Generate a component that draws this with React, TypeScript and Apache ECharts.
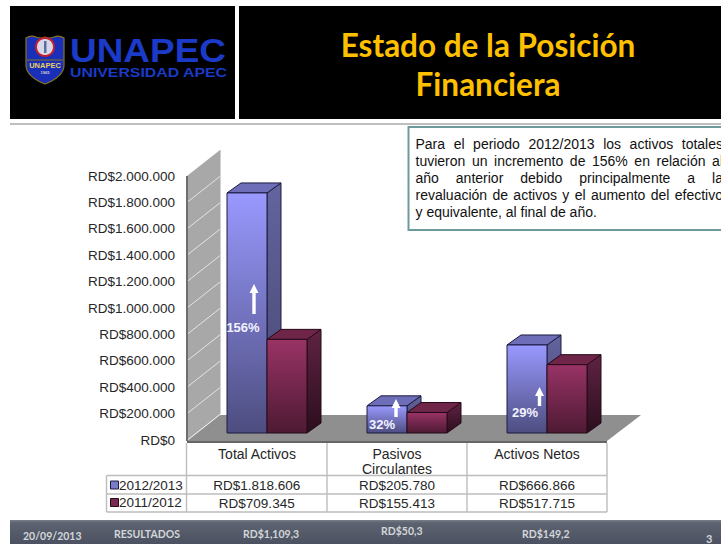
import React, { useEffect, useRef } from "react";
import * as echarts from "echarts";

const categories = ["Total Activos", "Pasivos\nCirculantes", "Activos Netos"];
const seriesNames = ["2012/2013", "2011/2012"];
const values2013 = [1818606, 205780, 666866];
const values2012 = [709345, 155413, 517715];
const yTicks = { min: 0, max: 2000000, interval: 200000 };
const increases = ["156%", "32%", "29%"];
const bodyLines = [
  "Para el periodo 2012/2013 los activos totales",
  "tuvieron un incremento de 156% en relación al",
  "año anterior debido principalmente a la",
  "revaluación de activos y el aumento del efectivo",
  "y equivalente, al final de año.",
];
const footerDate = "20/09/2013";
const footerLabel = "RESULTADOS";
const footerValues = ["RD$1,109,3", "RD$50,3", "RD$149,2"];
const pageNumber = "3";

const fmt = (v: number) => "RD$" + String(v).replace(/\B(?=(\d{3})+(?!\d))/g, ".");

echarts.graphic.registerShape(
  "unapecShield",
  echarts.graphic.extendPath(
    "M26 38 Q31 35 36 37 Q41 39 45 37 Q49 39 54 37 Q59 35 64 38 L64 66 Q63 77 45 84 Q27 77 26 66 Z",
    {}
  )
);

const FONT = '"Liberation Sans", Arial, sans-serif';
const SIZE = 13.5;
const ink = "#262626";
const rule = "#bdbdbd";

const palettes = [
  { front: ["#9999ff", "#4d4d80"], side: ["#64649f", "#45456f"], top: "#6d6db8", line: "#1c1c40" },
  { front: ["#993366", "#4d1a33"], side: ["#5f2342", "#2b0e1e"], top: "#6e2548", line: "#260a19" },
];

function bar3d(seriesIdx: number) {
  return (_params: any, api: any) => {
    const band = api.size([1, 0])[0];
    const w = (band * 2) / 7;
    const depthX = 14;
    const depthY = -10;
    const lift = -7;
    const p = api.coord([api.value(0), api.value(1)]);
    const base = api.coord([api.value(0), 0]);
    const x = p[0] - (band * 30) / 140 + seriesIdx * w;
    const y = p[1] + lift;
    const b = base[1] + lift;
    const pal = palettes[seriesIdx];
    const grad = (c: string[]) =>
      new echarts.graphic.LinearGradient(0, 0, 0, 1, [
        { offset: 0, color: c[0] },
        { offset: 1, color: c[1] },
      ]);
    const stroke = { stroke: pal.line, lineWidth: 1 };
    return {
      type: "group",
      children: [
        {
          type: "polygon",
          shape: { points: [[x + w, y], [x + w + depthX, y + depthY], [x + w + depthX, b + depthY], [x + w, b]] },
          style: { fill: grad(pal.side), ...stroke },
        },
        {
          type: "polygon",
          shape: { points: [[x, y], [x + depthX, y + depthY], [x + w + depthX, y + depthY], [x + w, y]] },
          style: { fill: pal.top, ...stroke },
        },
        {
          type: "rect",
          shape: { x, y, width: w, height: b - y },
          style: { fill: grad(pal.front), ...stroke },
        },
      ],
    };
  };
}

function textEl(text: string, x: number, y: number, font: string, fill: string, align = "left", z = 20) {
  return {
    type: "text",
    z,
    style: { text, x, y, font, fill, textAlign: align, textVerticalAlign: "middle" },
  };
}
function stretchedText(text: string, x: number, y: number, font: string, fill: string, scaleX: number, scaleY: number) {
  return {
    type: "text",
    z: 2,
    x,
    y,
    scaleX,
    scaleY,
    style: { text, x: 0, y: 0, font, fill, textAlign: "left", textVerticalAlign: "middle" },
  };
}
function lineEl(x1: number, y1: number, x2: number, y2: number, stroke: string, lineWidth: number, z = 1) {
  return { type: "line", z, shape: { x1, y1, x2, y2 }, style: { stroke, lineWidth } };
}
function arrow(cx: number, top: number, bottom: number) {
  const hw = 4.5;
  const head = 9;
  const s = 1.7;
  return {
    type: "polygon",
    z: 30,
    shape: {
      points: [
        [cx, top], [cx + hw, top + head], [cx + s, top + head], [cx + s, bottom],
        [cx - s, bottom], [cx - s, top + head], [cx - hw, top + head],
      ],
    },
    style: { fill: "#ffffff" },
  };
}

function justified(): any[] {
  const ctx = document.createElement("canvas").getContext("2d")!;
  const font = `14px ${FONT}`;
  ctx.font = font;
  const left = 415.5;
  const right = 723;
  const out: any[] = [];
  bodyLines.forEach((ln, i) => {
    const y = 144 + i * 17.1;
    const last = i === bodyLines.length - 1;
    if (last) {
      out.push(textEl(ln, left, y, font, "#111111"));
      return;
    }
    const words = ln.split(" ");
    const total = words.reduce((s, w) => s + ctx.measureText(w).width, 0);
    const gap = (right - left - total) / (words.length - 1);
    let x = left;
    words.forEach((w) => {
      out.push(textEl(w, x, y, font, "#111111"));
      x += ctx.measureText(w).width + gap;
    });
  });
  return out;
}

function buildGraphics(): any[] {
  const font = `${SIZE}px ${FONT}`;
  const els: any[] = [];
  // header
  els.push({ type: "rect", z: 0, shape: { x: 10, y: 6, width: 225, height: 113 }, style: { fill: "#000" } });
  els.push({ type: "rect", z: 0, shape: { x: 239, y: 6, width: 482, height: 113 }, style: { fill: "#000" } });
  els.push({ type: "rect", z: 0, shape: { x: 10, y: 123, width: 711, height: 2 }, style: { fill: "#bfbfbf" } });
  // logo
  els.push({ type: "unapecShield", z: 1, style: { fill: "#1a2fb8", stroke: "#8a7420", lineWidth: 1.2 } });
  els.push({ type: "circle", z: 2, shape: { cx: 45, cy: 47, r: 9 }, style: { fill: "#d8d8e8", stroke: "#c02030", lineWidth: 2 } });
  els.push({ type: "rect", z: 2, shape: { x: 44, y: 41, width: 2.5, height: 12 }, style: { fill: "#5a6fa0" } });
  els.push(lineEl(27, 60, 63, 60, "#8a7420", 1, 2));
  els.push(textEl("UNAPEC", 45, 65.5, 'bold 7.5px "Liberation Sans"', "#e8cf60", "center", 3));
  els.push(textEl("1965", 45, 72, 'bold 4px "Liberation Sans"', "#cfcfcf", "center", 3));
  els.push(stretchedText("UNAPEC", 70, 50, 'bold 33px "Liberation Sans"', "#1b3ac8", 1.12, 1));
  els.push(stretchedText("UNIVERSIDAD APEC", 70, 72.5, 'bold 13px "Liberation Sans"', "#1b3ac8", 1.22, 1.05));
  // title
  els.push(textEl("Estado de la Posición", 488, 44.5, 'bold 31.5px Lato', "#ffc000", "center", 2));
  els.push(textEl("Financiera", 488, 83.5, 'bold 31.5px Lato', "#ffc000", "center", 2));
  // text box
  els.push({ type: "rect", z: 1, shape: { x: 408.5, y: 127, width: 320, height: 103 }, style: { fill: "#fff", stroke: "#6f9a9c", lineWidth: 2 } });
  els.push(...justified());
  // wall and floor
  els.push({ type: "polygon", z: 1, shape: { points: [[187, 176], [220, 150], [220, 414], [187, 440]] }, style: { fill: "#a8a8a8" } });
  for (let v = yTicks.min + yTicks.interval; v <= yTicks.max - yTicks.interval; v += yTicks.interval) {
    const y = 440 - (v / yTicks.max) * 264;
    els.push(lineEl(187, y, 220, y - 26, "#e4e4e4", 1, 2));
  }
  els.push(lineEl(187, 176, 187, 441, "#6e6e6e", 2, 3));
  els.push(lineEl(220.5, 150, 220.5, 414, "#d0d0d0", 1, 2));
  els.push({ type: "polygon", z: 2, shape: { points: [[187, 441], [220, 415], [641, 415], [607, 441]] }, style: { fill: "#8f8f8f" } });
  els.push({ type: "rect", z: 2, shape: { x: 187, y: 441, width: 420, height: 2 }, style: { fill: "#666666" } });
  // table
  const rowY = [475.5, 494, 512];
  const colX = [186.5, 327, 467, 607];
  colX.forEach((x) => els.push(lineEl(x, 443, x, 512, rule, 1.4)));
  els.push(lineEl(106.5, rowY[0], 106.5, rowY[2], rule, 1.4));
  rowY.forEach((y) => els.push(lineEl(106.5, y, 607, y, rule, 1.4)));
  [values2013, values2012].forEach((arr, r) =>
    arr.forEach((v, c) =>
      els.push(textEl(fmt(v), (colX[c] + colX[c + 1]) / 2, (rowY[r] + rowY[r + 1]) / 2 + 0.5, font, ink, "center"))
    )
  );
  // arrows and percentages
  els.push(arrow(254, 284, 314), arrow(396, 399, 417), arrow(539.5, 387, 406));
  const pf = `bold 13px ${FONT}`;
  els.push(textEl(increases[0], 243, 327, pf, "#f2f2ff", "center", 30));
  els.push(textEl(increases[1], 382, 424, pf, "#f2f2ff", "center", 30));
  els.push(textEl(increases[2], 525, 412, pf, "#f2f2ff", "center", 30));
  // footer
  els.push({
    type: "rect",
    z: 0,
    shape: { x: 10, y: 520, width: 711, height: 24 },
    style: {
      fill: new echarts.graphic.LinearGradient(0, 0, 0, 1, [
        { offset: 0, color: "#7a7f88" },
        { offset: 0.12, color: "#5d6370" },
        { offset: 1, color: "#4b5160" },
      ]),
    },
  });
  const ff = 'bold 10.5px Lato';
  els.push(textEl(footerDate, 23, 536, 'bold 10.5px Lato', "#d3d6da"));
  els.push(textEl(footerLabel, 114, 534, ff, "#d3d6da"));
  els.push(textEl(footerValues[0], 243, 534, ff, "#d3d6da"));
  els.push(textEl(footerValues[1], 381, 531, ff, "#d3d6da"));
  els.push(textEl(footerValues[2], 522, 534, ff, "#d3d6da"));
  els.push(textEl(pageNumber, 706, 538, 'bold 11px Lato', "#d3d6da"));
  return els;
}

export default function App() {
  const ref = useRef<HTMLDivElement>(null);
  useEffect(() => {
    const chart = echarts.init(ref.current!, null, { renderer: "svg" });
    chart.setOption({
      animation: false,
      backgroundColor: "#ffffff",
      grid: { left: 187, right: 114, top: 176, bottom: 104, containLabel: false },
      xAxis: {
        type: "category",
        data: categories,
        axisLine: { show: false },
        axisTick: { show: false },
        axisLabel: { margin: 6, fontFamily: FONT, fontSize: 14, color: ink, lineHeight: 15, verticalAlign: "top", interval: 0 },
        z: 20,
      },
      yAxis: {
        type: "value",
        min: yTicks.min,
        max: yTicks.max,
        interval: yTicks.interval,
        axisLine: { show: false },
        axisTick: { show: false },
        splitLine: { show: false },
        axisLabel: { margin: 12, fontFamily: FONT, fontSize: SIZE, color: ink, formatter: (v: number) => fmt(v) },
      },
      legend: {
        orient: "vertical",
        left: 110,
        top: 478,
        padding: 0,
        itemWidth: 8,
        itemHeight: 8,
        itemGap: 3.5,
        selectedMode: false,
        data: [
          { name: seriesNames[0], icon: "rect", itemStyle: { color: "#7a7acb", borderColor: "#1c1c40", borderWidth: 1 } },
          { name: seriesNames[1], icon: "rect", itemStyle: { color: "#7a2950", borderColor: "#260a19", borderWidth: 1 } },
        ],
        textStyle: { fontFamily: FONT, fontSize: SIZE, color: ink, padding: [1, 0, 0, -4.5] },
        z: 25,
      },
      graphic: { elements: buildGraphics() },
      series: [values2013, values2012].map((vals, i) => ({
        type: "custom",
        name: seriesNames[i],
        coordinateSystem: "cartesian2d",
        renderItem: bar3d(i),
        encode: { x: 0, y: 1 },
        data: vals.map((v, c) => [c, v]),
        z: 5 + i,
        itemStyle: { color: palettes[i].front[0] },
      })),
    });
    return () => chart.dispose();
  }, []);
  return <div ref={ref} style={{ position: "fixed", left: 0, top: 0, width: 721, height: 544 }} />;
}
